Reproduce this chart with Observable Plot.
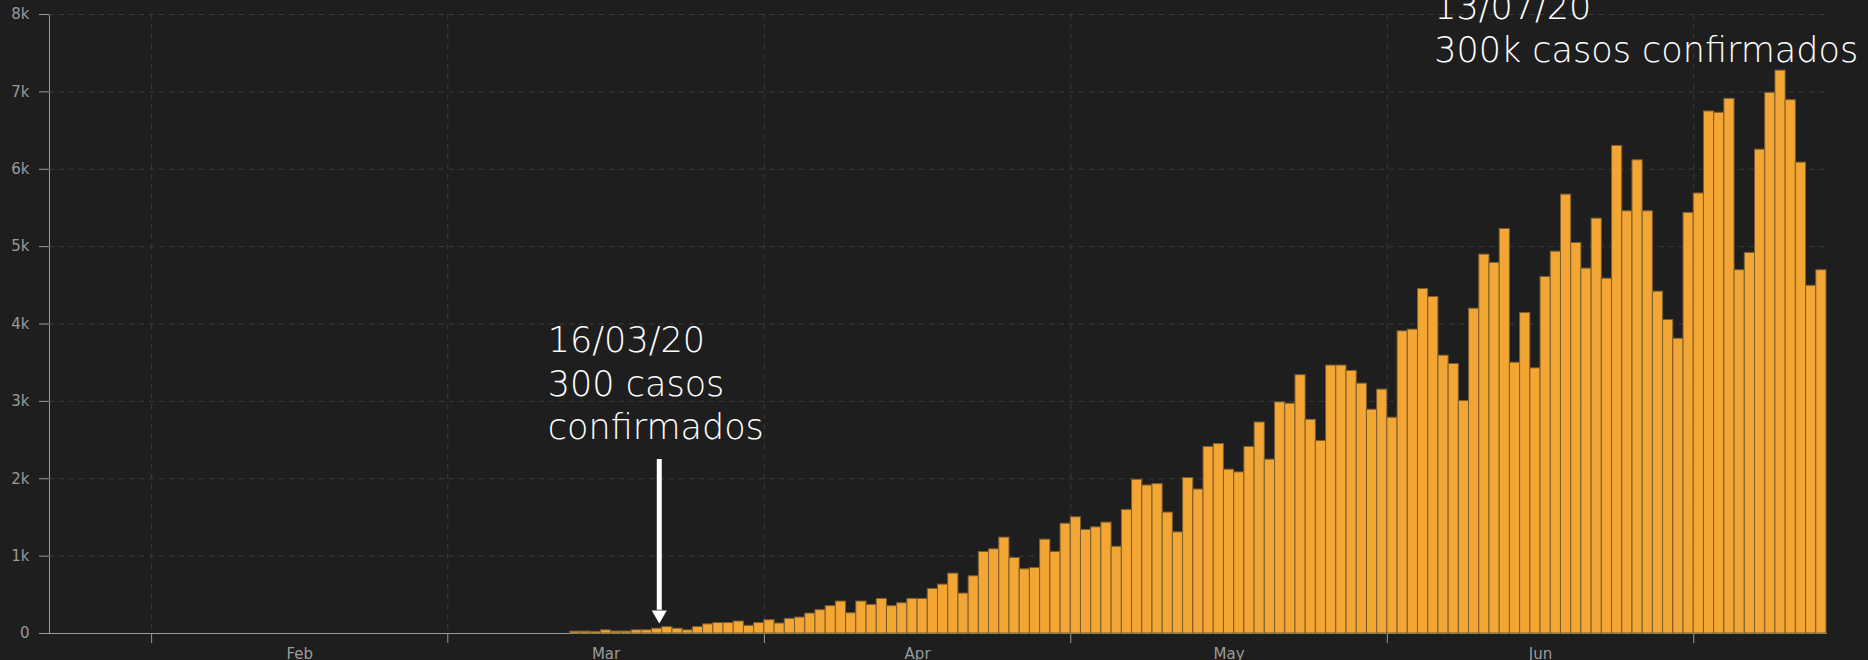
<!DOCTYPE html>
<html>
<head>
<meta charset="utf-8">
<script src="https://cdn.jsdelivr.net/npm/d3@7"></script>
<script src="https://cdn.jsdelivr.net/npm/@observablehq/plot@0.6"></script>
<style>
  html, body { margin: 0; padding: 0; background: #1e1e1e; }
  #chart { width: 1868px; height: 660px; overflow: hidden; }
</style>
</head>
<body>
<div id="chart"></div>
<script>
// ---- data ----
const startDate = "2020-01-22";
const dailyCases = [
  // Jan 22 - Jan 31
  0,0,0,0,0,0,0,0,0,0,
  // Feb 1 - Feb 29
  0,0,0,0,0,0,0,0,0,0,0,0,0,0,0,0,0,0,0,0,0,0,0,0,0,0,0,0,0,
  // Mar 1 - Mar 31
  0,0,0,0,0,0,0,0,0,0,0,0,
  24,24,21,41,25,25,41,41,62,82,62,41,82,118,135,135,155,99,135,
  // Apr 1 - Apr 30
  172,129,189,206,258,301,353,413,262,413,370,447,353,391,447,447,576,632,774,516,
  740,1054,1088,1239,976,830,847,1213,1054,1419,
  // May 1 - May 31
  1502,1338,1372,1433,1121,1597,1987,1913,1931,1563,1307,2009,1861,2411,2450,2117,
  2082,2411,2727,2247,2987,2970,3338,2762,2489,3463,3463,3394,3229,2892,3152,
  // Jun 1 - Jun 30
  2789,3905,3927,4453,4349,3591,3483,3004,4198,4897,4789,5228,3500,4142,3427,4608,
  4935,5672,5047,4716,5362,4586,6302,5457,6116,5457,4418,4052,3810,5435,
  // Jul 1 - Jul 13
  5687,6747,6730,6910,4695,4918,6253,6987,7275,6893,6086,4494,4695
];

const monthStarts = ["2020-02-01", "2020-03-01", "2020-04-01", "2020-05-01", "2020-06-01", "2020-07-01"];
const monthLabelDates = ["2020-02-15T12:00Z", "2020-03-16T12:00Z", "2020-04-16T00:00Z", "2020-05-16T12:00Z", "2020-06-16T00:00Z"];
const monthLabels = ["Feb", "Mar", "Apr", "May", "Jun"];

const yTicks = [0, 1000, 2000, 3000, 4000, 5000, 6000, 7000, 8000];
const yTickLabels = ["0", "1k", "2k", "3k", "4k", "5k", "6k", "7k", "8k"];

const annotationDates = ["2020-03-10T19:00Z", "2020-06-05T14:00Z"];
const annotationValues = [2519, 7390];
const annotationTexts = ["16/03/20\n300 casos\nconfirmados", "13/07/20\n300k casos confirmados"];

const arrowDate = "2020-03-21T17:00Z";
const arrowFrom = 2248;   // top of the arrow shaft (cases)
const arrowShaftEnd = 300;
const arrowHeadCenter = 241;

// ---- build rows ----
const start = new Date(startDate + "T00:00:00Z");
const rows = dailyCases.map((c, i) => ({date: d3.utcDay.offset(start, i), cases: c}));
const monthStartDates = monthStarts.map(d => new Date(d + "T00:00:00Z"));
const monthLabelRows = monthLabels.map((m, i) => ({date: new Date(monthLabelDates[i]), label: m}));
const annotations = annotationTexts.map((t, i) => ({date: new Date(annotationDates[i]), value: annotationValues[i], text: t}));
const arrow = [{date: new Date(arrowDate), from: arrowFrom, to: arrowShaftEnd, head: arrowHeadCenter}];

const gridColor = "#3c3c3c";
const axisColor = "#9a9a9a";

const chart = Plot.plot({
  width: 1868,
  height: 660,
  marginTop: 14,
  marginLeft: 49,
  marginRight: 42,
  marginBottom: 27,
  style: {background: "#1e1e1e", color: axisColor, fontFamily: "DejaVu Sans", fontSize: "15px"},
  x: {
    type: "utc",
    domain: [start, d3.utcDay.offset(start, dailyCases.length)],
    ticks: monthStartDates,
    tickFormat: () => "",
    tickSize: 10,
    line: true,
    label: null
  },
  y: {
    domain: [0, 8000],
    ticks: yTicks,
    tickFormat: d => yTickLabels[yTicks.indexOf(d)],
    tickSize: 10,
    tickPadding: 10,
    line: true,
    label: null
  },
  marks: [
    Plot.ruleY(yTicks.filter(d => d > 0), {stroke: gridColor, strokeDasharray: "5,5"}),
    Plot.ruleX(monthStartDates, {stroke: gridColor, strokeDasharray: "5,5"}),
    Plot.rectY(rows, {
      x1: "date",
      x2: d => d3.utcDay.offset(d.date, 1),
      y: "cases",
      fill: "#f3a633",
      stroke: "#7a5e30",
      strokeWidth: 1
    }),
    Plot.text(monthLabelRows, {x: "date", y: () => 0, text: "label", dy: 15, lineAnchor: "top", fill: axisColor, fontSize: 15}),
    Plot.ruleX(arrow, {x: "date", y1: "to", y2: "from", stroke: "white", strokeWidth: 5}),
    Plot.dot(arrow, {x: "date", y: "head", symbol: "triangle", rotate: 180, r: 5.6, fill: "white", stroke: "none"}),
    Plot.text(annotations, {
      x: "date", y: "value", text: "text",
      textAnchor: "start", lineAnchor: "bottom", lineHeight: 1.23,
      fontSize: 35, fontWeight: 200, fontFamily: "DejaVu Sans", fill: "white"
    })
  ]
});

document.getElementById("chart").appendChild(chart);
</script>
</body>
</html>
